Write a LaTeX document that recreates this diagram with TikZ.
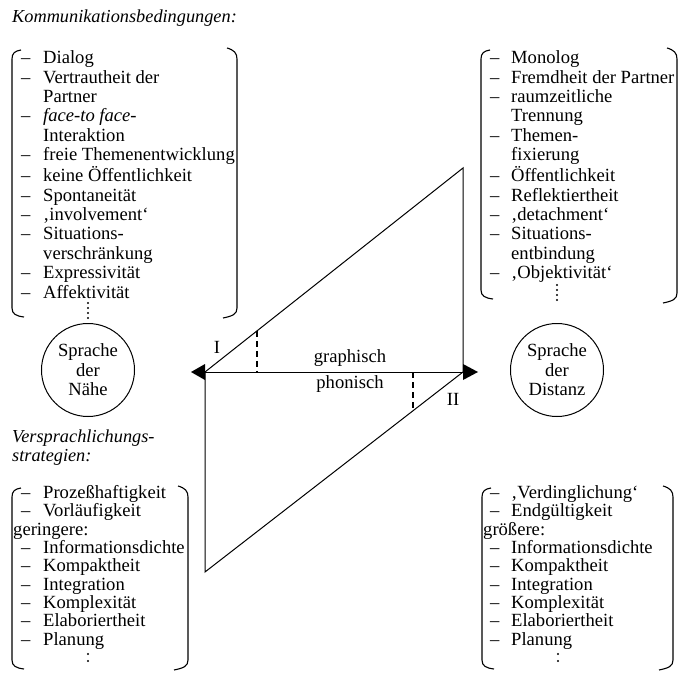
\documentclass[tikz,border=0pt]{standalone}
\usepackage{fontspec}
\setmainfont{Liberation Serif}
\usetikzlibrary{shapes.geometric,calc}
\begin{document}
\begin{tikzpicture}[x=1pt,y=-1pt,
  lst/.style={anchor=north west, inner sep=0pt, font=\fontsize{18.6}{19.4}\selectfont},
  lstb/.style={anchor=north west, inner sep=0pt, font=\fontsize{18.6}{18.2}\selectfont},
  hd/.style={anchor=west, inner sep=0pt, font=\fontsize{18.3}{19}\selectfont\itshape},
  lab/.style={inner sep=0pt, font=\fontsize{18.6}{19}\selectfont},
  circ/.style={draw, line width=1pt, ellipse, minimum width=93pt, minimum height=93pt, inner sep=0pt, align=center, font=\fontsize{18.6}{19.5}\selectfont},
  ln/.style={line width=1pt},
  brk/.style={line width=1.1pt},
  dsh/.style={line width=1.1pt, dash pattern=on 6pt off 4pt},
  vdot/.style={fill=black}
]
\useasboundingbox (0,0) rectangle (681,677);
\fill[white] (0,0) rectangle (681,677);

% headings
\node[hd] (h1) at (12,18) {Kommunikationsbedingungen:};
\node[hd] (h2) at (12,438) {Versprachlichungs-};
\node[hd] (h3) at (12,457) {strategien:};

% upper left list
\node[lst] (ul) at (21,50) {\begin{tabular}{@{}p{22pt}@{}l@{}}
-- & Dialog\\
-- & Vertrautheit der\\
   & Partner\\
-- & \textit{face-to face}-\\
   & Interaktion\\
-- & freie Themenentwicklung\\
-- & keine Öffentlichkeit\\
-- & Spontaneität\\
-- & ‚involvement‘\\
-- & Situations-\\
   & verschränkung\\
-- & Expressivität\\
-- & Affektivität
\end{tabular}};
\foreach \yy in {303,308,313,318} \fill[vdot] (88,\yy) circle (1.1pt);

% upper right list
\node[lst] (ur) at (490,50) {\begin{tabular}{@{}p{21pt}@{}l@{}}
-- & Monolog\\
-- & Fremdheit der Partner\\
-- & raumzeitliche\\
   & Trennung\\
-- & Themen-\\
   & fixierung\\
-- & Öffentlichkeit\\
-- & Reflektiertheit\\
-- & ‚detachment‘\\
-- & Situations-\\
   & entbindung\\
-- & ‚Objektivität‘
\end{tabular}};
\foreach \yy in {285,290,295,300} \fill[vdot] (557,\yy) circle (1.1pt);

% lower left list
\node[lstb] (ll) at (21,485) {\begin{tabular}{@{}p{22pt}@{}l@{}}
-- & Prozeßhaftigkeit\\
-- & Vorläufigkeit\\
\multicolumn{2}{@{}l@{}}{\hspace*{-8pt}geringere:}\\
-- & Informationsdichte\\
-- & Kompaktheit\\
-- & Integration\\
-- & Komplexität\\
-- & Elaboriertheit\\
-- & Planung
\end{tabular}};
\foreach \yy in {654,661} \fill[vdot] (88,\yy) circle (1.1pt);

% lower right list
\node[lstb] (lr) at (490,485) {\begin{tabular}{@{}p{21pt}@{}l@{}}
-- & ‚Verdinglichung‘\\
-- & Endgültigkeit\\
\multicolumn{2}{@{}l@{}}{\hspace*{-7pt}größere:}\\
-- & Informationsdichte\\
-- & Kompaktheit\\
-- & Integration\\
-- & Komplexität\\
-- & Elaboriertheit\\
-- & Planung
\end{tabular}};
\foreach \yy in {654,661} \fill[vdot] (558,\yy) circle (1.1pt);

% brackets
\newcommand{\lbrk}[3]{\draw[brk] (#1+9,#2-1) .. controls (#1+3,#2) and (#1,#2+2) .. (#1,#2+8) -- (#1,#3-8) .. controls (#1,#3-2) and (#1+4,#3) .. (#1+12,#3+1);}
\newcommand{\rbrk}[3]{\draw[brk] (#1-10,#2-3) .. controls (#1-3,#2-1) and (#1,#2+2) .. (#1,#2+8) -- (#1,#3-8) .. controls (#1,#3-2) and (#1-4,#3) .. (#1-14,#3+2);}
\lbrk{12}{51}{316}
\rbrk{237}{51}{316}
\lbrk{481}{51}{298}
\rbrk{677}{51}{301}
\lbrk{12}{489}{668}
\rbrk{188}{489}{668}
\lbrk{482}{489}{668}
\rbrk{673}{489}{668}

% circles
\node[circ] (cn) at (88,370) {Sprache\\der\\Nähe};
\node[circ] (cd) at (557,370) {Sprache\\der\\Distanz};

% main figure
\coordinate (A) at (205,372);
\coordinate (B) at (463,372);
\coordinate (T) at (463,168);
\coordinate (Bo) at (205,572);
\draw[ln] (A) -- (T) -- (B);
\draw[ln] (A) -- (Bo) -- (B);
\draw[ln] (A) -- (B);
\fill (A) -- ++(0,-8) -- ++(-14,8) -- ++(14,8) -- cycle;
\fill (B) -- ++(0,-8) -- ++(15,8) -- ++(-15,8) -- cycle;
\coordinate (d1) at ($(A)!0.2016!(T)$);
\coordinate (d2) at ($(Bo)!0.806!(B)$);
\draw[dsh] (d1) -- (d1 |- A);
\draw[dsh] (d2 |- A) -- (d2);
\node[lab] (l1) at (217,347) {I};
\node[lab] (l2) at (453,399) {II};
\node[lab] (gr) at (350,358) {graphisch};
\node[lab] (ph) at (350,384) {phonisch};
\end{tikzpicture}
\end{document}
